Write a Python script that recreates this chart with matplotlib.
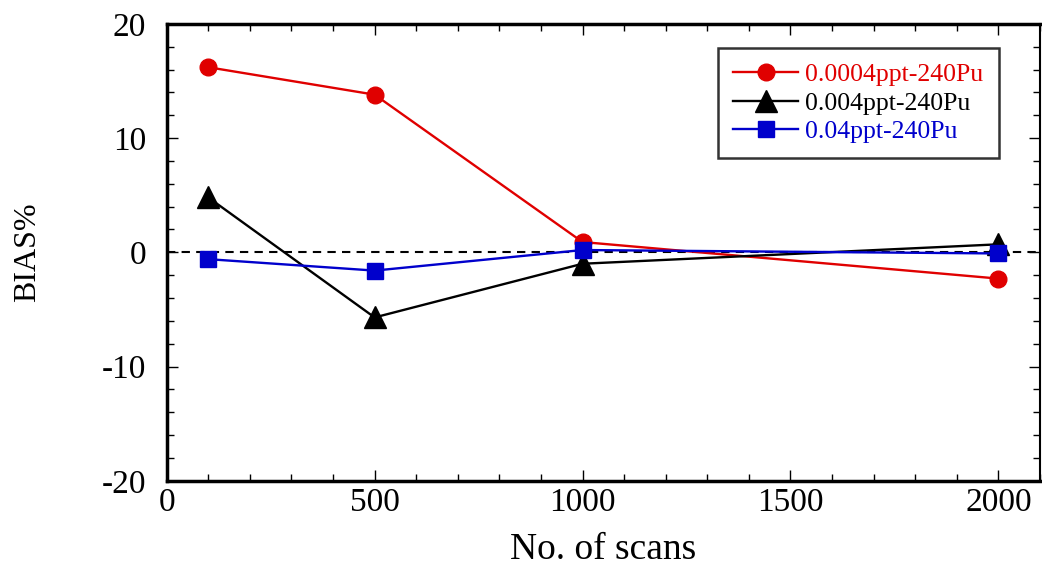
import numpy as np
import matplotlib
matplotlib.use("Agg")
import matplotlib.pyplot as plt
from matplotlib.ticker import MultipleLocator

scans = [100, 500, 1000, 2000]
bias_0004 = [16.2, 13.8, 0.9, -2.3]
bias_004 = [4.8, -5.7, -1.0, 0.7]
bias_04 = [-0.6, -1.6, 0.2, -0.1]
labels = ["0.0004ppt-240Pu", "0.004ppt-240Pu", "0.04ppt-240Pu"]
colors = ["#e00000", "#000000", "#0000cc"]

plt.rcParams['font.family'] = ['Liberation Serif', 'DejaVu Serif']
plt.rcParams['axes.unicode_minus'] = False

fig = plt.figure(figsize=(10.42, 5.67), dpi=100)
ax = fig.add_axes([0.160, 0.152, 0.838, 0.806])

ax.axhline(0, color="black", linestyle=(0, (4, 3)), linewidth=1.5, zorder=1)
ax.plot(scans, bias_0004, color=colors[0], marker="o", markersize=12, linewidth=1.7, label=labels[0])
ax.plot(scans, bias_004, color=colors[1], marker="^", markersize=16, linewidth=1.7, label=labels[1])
ax.plot(scans, bias_04, color=colors[2], marker="s", markersize=12, linewidth=1.7, label=labels[2])

ax.set_xlim(0, 2100)
ax.set_ylim(-20, 20)
ax.xaxis.set_major_locator(MultipleLocator(500))
ax.xaxis.set_minor_locator(MultipleLocator(100))
ax.yaxis.set_major_locator(MultipleLocator(10))
ax.yaxis.set_minor_locator(MultipleLocator(2))
ax.tick_params(which="both", direction="in", top=True, right=True, labelsize=24)
ax.tick_params(axis="x", which="major", pad=5)
ax.tick_params(axis="y", which="major", pad=15)
ax.tick_params(which="major", length=8, width=1)
ax.tick_params(which="minor", length=5, width=1)
for side in ["left", "bottom", "top"]:
    ax.spines[side].set_linewidth(2.5)
ax.spines["right"].set_linewidth(1.5)

ax.set_xlabel("No. of scans", fontsize=27, labelpad=10)
ax.set_ylabel("BIAS%", fontsize=23)
ax.yaxis.set_label_coords(-0.143, 0.5)

leg = ax.legend(loc="upper right", bbox_to_anchor=(0.953, 0.947), fontsize=18.5, frameon=True,
                fancybox=False, edgecolor="black", handlelength=2.5, borderpad=0.6,
                labelspacing=0.2, handletextpad=0.3, borderaxespad=0)
leg.get_frame().set_linewidth(1.8)
for txt, c in zip(leg.get_texts(), colors):
    txt.set_color(c)

fig.savefig("out.png", dpi=100)
